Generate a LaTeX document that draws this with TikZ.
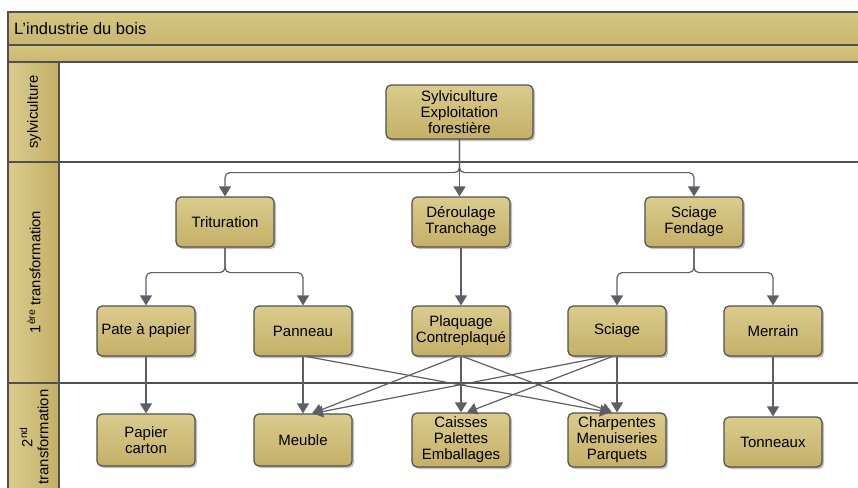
\documentclass[tikz,border=0pt]{standalone}
\usepackage{fontspec}
\setmainfont{Liberation Sans}
\usetikzlibrary{arrows.meta,shadows,calc}
\definecolor{goldA}{HTML}{DACC8D}
\definecolor{goldB}{HTML}{C4AF67}
\definecolor{barA}{HTML}{D5C680}
\definecolor{barB}{HTML}{C9B670}
\definecolor{edgec}{HTML}{505050}
\definecolor{connc}{HTML}{5E5E66}
\begin{document}
\begin{tikzpicture}[x=1pt,y=-1pt,
  box/.style={draw=edgec, line width=1.2pt, rounded corners=5pt,
    top color=goldA, bottom color=goldB, minimum width=98pt, minimum height=50pt,
    align=center, inner sep=2pt, font=\fontsize{15}{16}\selectfont,
    drop shadow={shadow xshift=2pt, shadow yshift=-2pt, opacity=0.25, fill=black}},
  arr/.style={draw=connc, line width=1.2pt, -{Triangle[length=10pt,width=12pt]}},
  lanefill/.style={left color=goldA, right color=goldB},
  frameline/.style={draw=edgec, line width=1.5pt},
  lanelabel/.style={rotate=90, align=center, font=\fontsize{14.8}{16}\selectfont}
]
\useasboundingbox (0,0) rectangle (858,487);
% bars
\fill[top color=barA, bottom color=barB] (8,12) rectangle (880,45);
\fill[top color=barA, bottom color=barB] (8,45) rectangle (880,62);
% header cells
\fill[lanefill] (8,62) rectangle (59,162);
\fill[lanefill] (8,162) rectangle (59,383);
\fill[lanefill] (8,383) rectangle (59,510);
% frame lines
\draw[frameline] (880,12) -- (8,12) -- (8,510);
\draw[frameline] (8,45) -- (880,45);
\draw[frameline] (8,62) -- (880,62);
\draw[frameline] (8,162) -- (880,162);
\draw[frameline] (8,383) -- (880,383);
\draw[frameline] (59,62) -- (59,510);
% texts of the frame
\node[anchor=west, inner sep=0pt, font=\fontsize{16.5}{18}\selectfont] (title) at (14,28.5) {L’industrie du bois};
\node[lanelabel] (l1) at (34,112) {sylviculture};
\node[lanelabel] (l2) at (34,272) {1\textsuperscript{ère} transformation};
\node[lanelabel] (l3) at (34,437) {2\textsuperscript{nd}\\transformation};
% nodes
\node[box, minimum width=147pt, minimum height=54pt] (syl) at (459.5,112) {Sylviculture\\Exploitation\\forestière};
\node[box] (trit) at (225,222) {Trituration};
\node[box] (der) at (461,222) {Déroulage\\Tranchage};
\node[box] (scif) at (694,222) {Sciage\\Fendage};
\node[box] (pate) at (146,331) {Pate à papier};
\node[box] (pan) at (303,331) {Panneau};
\node[box] (plaq) at (461,331) {Plaquage\\Contreplaqué};
\node[box] (sci) at (617,331) {Sciage};
\node[box] (mer) at (773,331) {Merrain};
\node[box, minimum height=52pt] (pap) at (146,440) {Papier\\carton};
\node[box, minimum height=52pt] (meu) at (303,440) {Meuble};
\node[box, minimum height=54pt] (cai) at (461,440) {Caisses\\Palettes\\Emballages};
\node[box, minimum height=54pt] (cha) at (617,440) {Charpentes\\Menuiseries\\Parquets};
\node[box] (ton) at (773,442) {Tonneaux};
% junctions
\coordinate (j1) at ($(syl.south)+(0,33)$);
\coordinate (j2) at ($(trit.south)+(0,25)$);
\coordinate (j3) at ($(scif.south)+(0,25)$);
% connectors
\draw[arr, rounded corners=5pt] (syl.south) -- (j1) -| (trit.north);
\draw[arr, rounded corners=5pt] (syl.south) -- (j1) -| (scif.north);
\draw[arr] (syl.south) -- (syl.south |- der.north);
\draw[arr, rounded corners=5pt] (trit.south) -- (j2) -| (pate.north);
\draw[arr, rounded corners=5pt] (trit.south) -- (j2) -| (pan.north);
\draw[arr, rounded corners=5pt] (scif.south) -- (j3) -| (sci.north);
\draw[arr, rounded corners=5pt] (scif.south) -- (j3) -| (mer.north);
\draw[arr] (der.south) -- (plaq.north);
\draw[arr] (pate.south) -- (pap.north);
\draw[arr] (mer.south) -- (ton.north);
\draw[arr] (pan.south) -- (meu.north);
\draw[arr] (plaq.south) -- (cai.north);
\draw[arr] (sci.south) -- (cha.north);
\draw[arr] ([xshift=4pt]pan.south) -- ([xshift=-7pt]cha.north);
\draw[arr] ([xshift=-4pt]plaq.south) -- ([xshift=9pt]meu.north);
\draw[arr] ([xshift=2pt]plaq.south) -- ([xshift=-5pt]cha.north);
\draw[arr] ([xshift=-12pt]sci.south) -- ([xshift=10pt]meu.north);
\draw[arr] ([xshift=-5pt]sci.south) -- ([xshift=6pt]cai.north);
\end{tikzpicture}
\end{document}
